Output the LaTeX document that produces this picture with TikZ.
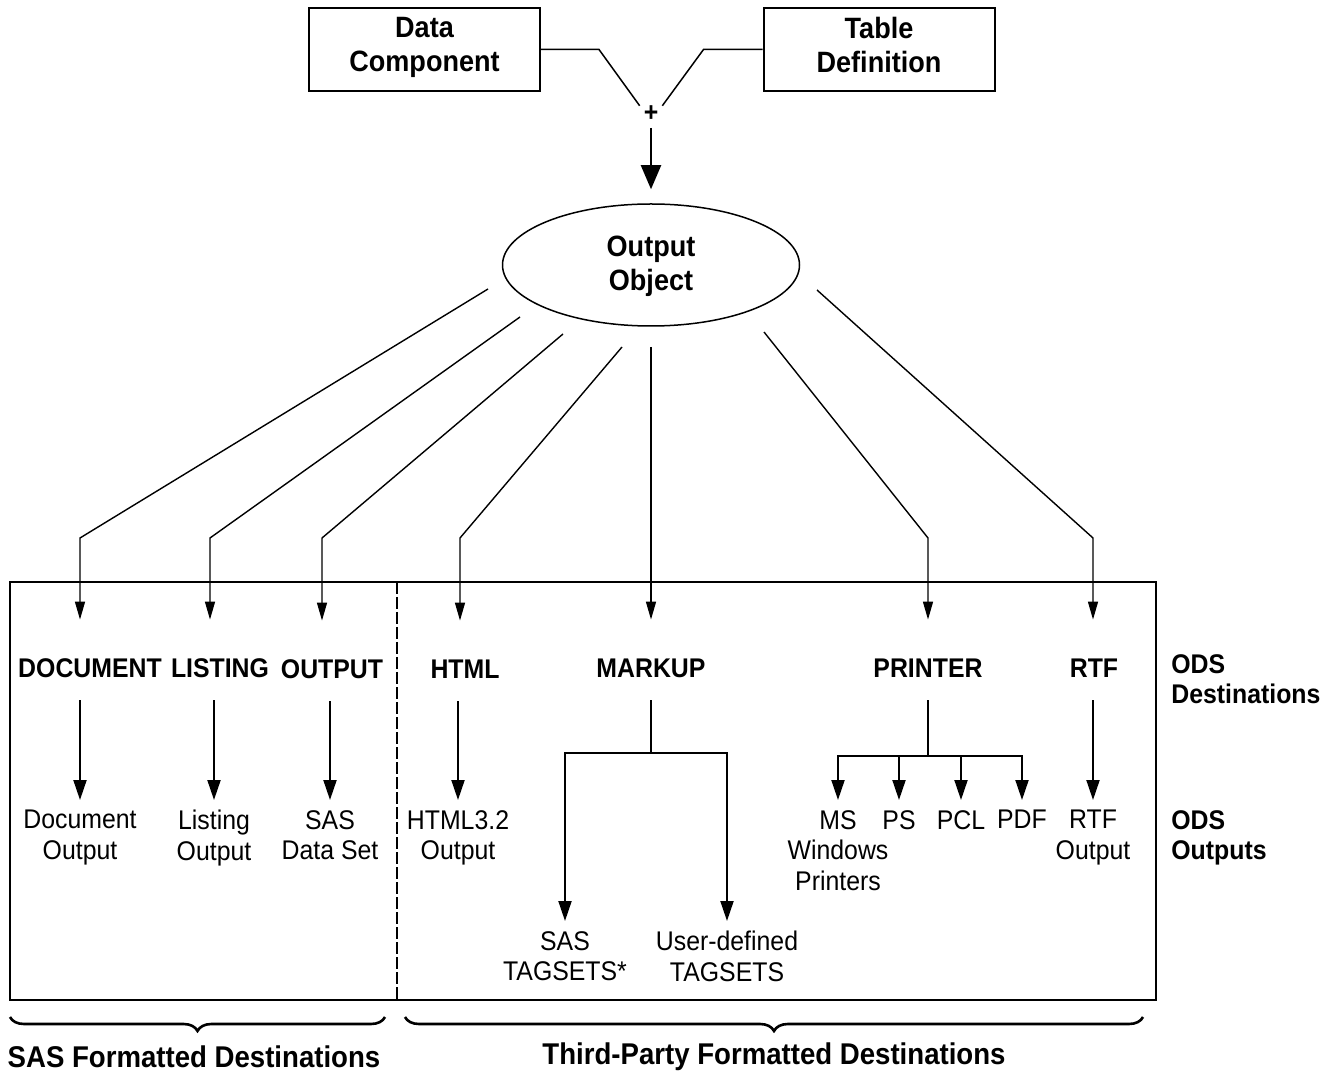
\documentclass[tikz,border=0pt]{standalone}
\usepackage{fontspec}
\setmainfont{Liberation Sans}[FakeStretch=0.92]
\usetikzlibrary{arrows.meta,shapes.geometric,decorations.pathreplacing}

\begin{document}
\begin{tikzpicture}[x=0.5pt,y=-0.5pt,
  comp/.style={draw,line width=1pt,minimum width=115.5pt,minimum height=41.5pt,align=center,
    font=\fontsize{14.7}{17}\selectfont\bfseries},
  conn/.style={line width=0.75pt},
  dest/.style={inner sep=0pt,text height=10.5pt,text depth=0pt,font=\fontsize{13.5}{15}\selectfont\bfseries},
  result/.style={anchor=north,inner sep=5pt,align=center,font=\fontsize{13.5}{15.3}\selectfont},
  arrin/.style={line width=0.7pt,-{Triangle[length=9pt,width=5pt]},shorten >=18.25pt},
  arrout/.style={line width=1pt,-{Triangle[length=10pt,width=6.5pt]}},
  lab/.style={anchor=west,align=left,inner sep=0pt,font=\fontsize{13.5}{15}\selectfont\bfseries},
  bigbrace/.style={line width=1.3pt,decorate,decoration={brace,mirror,amplitude=7pt}}]
\useasboundingbox[fill=white] (0,0) rectangle (1328,1074);

% components
\node[comp] (data) at (424.5,49.5) {Data\\Component\strut};
\node[comp] (table) at (879,49.5) {Table\\Definition\strut};
\node[circle,minimum size=13.6pt,inner sep=0pt,font=\fontsize{13.5}{15}\selectfont\bfseries] (plus) at (651,114) {+};
\node[draw,ellipse,line width=0.75pt,minimum width=148.5pt,minimum height=61pt,align=center,
  font=\fontsize{14.7}{17}\selectfont\bfseries] (obj) at (651,265) {\strut Output\\Object};
\draw[conn] (data.east) -- ++(58,0) -- (plus.144);
\draw[conn] (table.west) -- ++(-59,0) -- (plus.36);
\draw[line width=1pt,-{Triangle[length=12pt,width=10pt]},shorten >=7pt] (plus.south) -- (obj.north);

% frame
\draw[line width=1pt] (10,582) rectangle (1156,1000);
\draw[line width=1pt,dash pattern=on 6pt off 1.5pt] (397,582) -- (397,1000);

% destinations
\node[dest] (doc) at (90,667) {DOCUMENT};
\node[dest] (list) at (220,667) {LISTING};
\node[dest] (outdest) at (332,668) {OUTPUT};
\node[dest] (html) at (465,668) {HTML};
\node[dest] (markup) at (651,667) {MARKUP};
\node[dest] (printer) at (928,667) {PRINTER};
\node[dest] (rtf) at (1094,667) {RTF};
\node[lab] (odsdest) at (1171,679) {ODS\\Destinations};

% start and bend points
\coordinate (s1) at (488,289); \coordinate (b1) at (80,538);
\coordinate (s2) at (520,317); \coordinate (b2) at (210,538);
\coordinate (s3) at (563,334); \coordinate (b3) at (322,538);
\coordinate (s4) at (622,347); \coordinate (b4) at (460,538);
\coordinate (s5) at (651,347);
\coordinate (s6) at (764,332); \coordinate (b6) at (928,538);
\coordinate (s7) at (817,290); \coordinate (b7) at (1093,538);

\draw[arrin] (s1) -- (b1) -- (b1 |- doc.north);
\draw[arrin] (s2) -- (b2) -- (b2 |- list.north);
\draw[arrin] (s3) -- (b3) -- (b3 |- outdest.north);
\draw[arrin] (s4) -- (b4) -- (b4 |- html.north);
\draw[arrin] (s5) -- (markup.north);
\draw[arrin] (s6) -- (b6) -- (b6 |- printer.north);
\draw[arrin] (s7) -- (b7) -- (b7 |- rtf.north);

% outputs
\node[result] (docout) at (80,800) {Document\\Output};
\node[result] (listout) at (214,800) {Listing\\Output};
\node[result] (sasds) at (330,800) {SAS\\Data Set};
\node[result] (htmlout) at (458,800) {HTML3.2\\Output};
\node[result] (sastag) at (565,921) {SAS\\TAGSETS*};
\node[result] (usertag) at (727,921) {User-defined\\TAGSETS};
\node[result] (ms) at (838,800) {MS\\Windows\\Printers};
\node[result] (ps) at (899,800) {PS};
\node[result] (pcl) at (961,800) {PCL};
\node[result] (pdf) at (1022,800) {PDF};
\node[result] (rtfout) at (1093,800) {RTF\\Output};
\node[lab] (odsout) at (1171,838) {ODS\\Outputs};

\draw[arrout,shorten <=11.25pt] (doc.south -| docout.north) -- (docout.north);
\draw[arrout,shorten <=11.25pt] (list.south -| listout.north) -- (listout.north);
\draw[arrout,shorten <=11.25pt] (outdest.south -| sasds.north) -- (sasds.north);
\draw[arrout,shorten <=11.25pt] (html.south -| htmlout.north) -- (htmlout.north);
\draw[arrout,shorten <=11.25pt] (rtf.south -| rtfout.north) -- (rtfout.north);

\coordinate (mj) at (651,753);
\draw[line width=1pt,shorten <=11.25pt] (markup.south) -- (mj);
\draw[arrout] (mj) -| (sastag.north);
\draw[arrout] (mj) -| (usertag.north);

\coordinate (pj) at (928,756);
\draw[line width=1pt,shorten <=11.25pt] (printer.south) -- (pj);
\draw[arrout] (pj) -| (ms.north);
\draw[arrout] (pj) -| (ps.north);
\draw[arrout] (pj) -| (pcl.north);
\draw[arrout] (pj) -| (pdf.north);

% groups
\draw[bigbrace] (10,1017) -- (385,1017);
\draw[bigbrace] (405,1017) -- (1143,1017);
\node[font=\fontsize{15}{17}\selectfont\bfseries] (sasfmt) at (194,1057) {SAS Formatted Destinations};
\node[font=\fontsize{15}{17}\selectfont\bfseries] (thirdfmt) at (774,1057) {Third-Party Formatted Destinations};
\end{tikzpicture}
\end{document}
